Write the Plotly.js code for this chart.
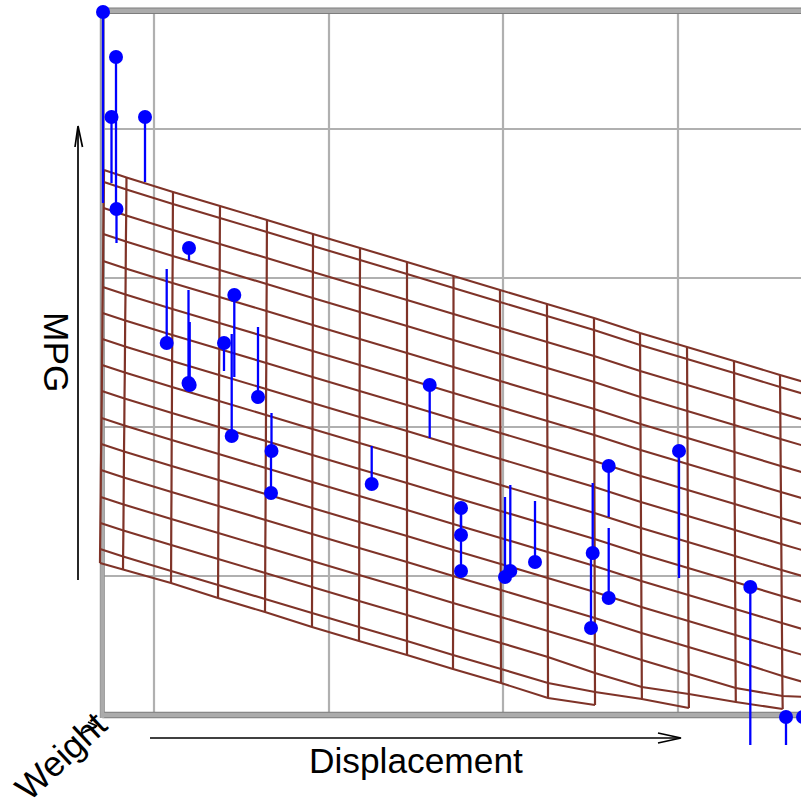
<!DOCTYPE html>
<html>
<head>
<meta charset="utf-8">
<script src="https://cdn.plot.ly/plotly-3.0.1.min.js"></script>
<style>html,body{margin:0;padding:0;background:#fff}</style>
</head>
<body>
<div id="chart" style="width:801px;height:799px"></div>
<script>
// Observations: position along the Displacement direction, height on the MPG direction
const pointX = [103,116,111.5,145,116.5,189,166.7,188.5,189.7,224,234.3,231.7,258,271.5,271,371.7,429.7,461,461,461,505,510.3,535,592.7,591,608.7,608.7,679,750.3,786,803];
const pointY = [12,57,117,117,209,248,343,383,385,343,295,436,397,451,493,484,385,508,535,571,577,571,562,553,628,598,466,451,587,717,717];
// Where each residual stem meets the fitted surface
const stemEndY = [203,205,183,182,243,260,269,290,322,371,377,334,327,413,455,446,438,510,510,510,497,485,501,483,555,528,517,578,745,745,745];

// Fitted surface, one list per row of the wireframe
const meshX = [
[104,126.5,173,220,267,313,360,407,453.5,500,547,594,640,687,734,780,804],
[103.9,126.4,172.9,219.9,266.9,313,360,407,453.5,500,547,594,640.1,687.1,734.1,780.1,804.1],
[103.6,126.2,172.8,219.8,266.8,312.9,359.9,407,453.5,500.1,547.1,594.1,640.2,687.2,734.2,780.3,804.3],
[103.3,125.9,172.7,219.7,266.7,312.8,359.8,407,453.4,500.2,547.2,594.2,640.3,687.3,734.3,780.5,804.5],
[103.1,125.7,172.5,219.5,266.5,312.8,359.8,407,453.4,500.2,547.2,594.2,640.5,687.5,734.5,780.7,804.7],
[102.8,125.5,172.4,219.4,266.4,312.7,359.7,407,453.4,500.3,547.3,594.3,640.6,687.6,734.6,780.9,804.9],
[102.5,125.2,172.3,219.3,266.3,312.6,359.6,407,453.3,500.4,547.4,594.4,640.7,687.7,734.7,781.1,805.1],
[102.3,125,172.1,219.1,266.1,312.6,359.6,407,453.3,500.4,547.4,594.4,640.9,687.9,734.9,781.3,805.3],
[102,124.8,172,219,266,312.5,359.5,407,453.3,500.5,547.5,594.5,641,688,735,781.5,805.5],
[101.8,124.5,171.9,218.9,265.9,312.4,359.4,407,453.2,500.6,547.6,594.6,641.1,688.1,735.1,781.7,805.7],
[101.5,124.3,171.7,218.7,265.7,312.4,359.4,407,453.2,500.6,547.6,594.6,641.3,688.3,735.3,781.9,805.9],
[101.2,124,171.6,218.6,265.6,312.3,359.3,407,453.2,500.7,547.7,594.7,641.4,688.4,735.4,782.1,806.1],
[100.9,123.8,171.5,218.5,265.5,312.2,359.2,407,453.1,500.8,547.8,594.8,641.5,688.5,735.5,782.3,806.3],
[100.7,123.6,171.3,218.3,265.3,312.2,359.2,407,453.1,500.8,547.8,594.8,641.7,688.7,735.7,782.5,806.5],
[100.4,123.4,171.2,218.2,265.2,312.1,359.1,407,453.1,500.9,547.9,594.9,641.8,688.8,735.8,782.7],
[100.1,123.1,171.1,218.1,265.1,312,359,407,453,501,548,595,641.9,688.9],
[100,123,171,218,265,312,359,407,453,501,548,595]
];
const meshY = [
[170,177.5,192,206,220,234,248,262,276,290,304,318,333,347,361,375,382],
[182,189.5,204,218,232,246,260,274,288,302,316,330,345,359,373,387,394],
[208,215.5,230,244,258,272,286,300,314,328,342,356,371,385,399,413,420],
[234,241.5,256,270,284,298,312,326,340,354,368,382,397,411,425,439,446],
[261,268.5,283,297,311,325,339,353,367,381,395,409,424,438,452,466,473],
[287,294.5,309,323,337,351,365,379,393,407,421,435,450,464,478,492,499],
[313,320.5,335,349,363,377,391,405,419,433,447,461,476,490,504,518,525],
[339,346.5,361,375,389,403,417,431,445,459,473,487,502,516,530,544,551],
[365,372.5,387,401,415,429,443,457,471,485,499,513,528,542,556,570,577],
[391,398.5,413,427,441,455,469,483,497,511,525,539,554,568,582,596,603],
[418,425.5,440,454,468,482,496,510,524,538,552,566,581,595,609,623,630],
[444,451.5,466,480,494,508,522,536,550,564,578,592,607,621,635,649,656],
[470,477.5,492,506,520,534,548,562,576,590,604,618,633,647,661,676,683],
[497,504.5,519,533,547,561,575,589,603,617,631,645,660,674,688,696,697],
[523,530.5,545,559,573,587,601,615,629,643,657,673,687,694,702,709],
[549,556.5,571,585,599,613,627,641,655,669,683,692,699,708],
[563,569.5,583,598,612,627,641,655,669,683,698,705]
];

// Reference grid and box
const gridX = [154,329,503,678];
const gridY = [129,278,427,576];
const boxLeft = 102.3, boxRight = 801, boxTop = 10.8, boxBottom = 715;

// Axis labels and their arrows
const labelText = ["MPG","Displacement","Weight"];
const labelX = [57,415.5,60];
const labelY = [352,760,756];
const labelAngle = [90,0,-43];
const arrowMpgX = [78,78,null,75,78,82.5];
const arrowMpgY = [580,127,null,147,126,147];
const arrowDispX = [150,680,null,658,681,658];
const arrowDispY = [738,738,null,733,738,743];
const arrowWeightX = [80,96,null,88,97,85];
const arrowWeightY = [734,727,null,722,726,731];

const gridLX = [], gridLY = [];
gridX.forEach(v => { gridLX.push(v, v, null); gridLY.push(boxTop, boxBottom + 3, null); });
gridY.forEach(v => { gridLX.push(boxLeft, boxRight, null); gridLY.push(v, v, null); });

const rowX = [], rowY = [];
meshX.forEach((r, i) => { r.forEach((v, j) => { rowX.push(v); rowY.push(meshY[i][j]); }); rowX.push(null); rowY.push(null); });
const colX = [], colY = [];
for (let j = 0; j < meshX[0].length; j++) {
  for (let i = 0; i < meshX.length; i++) {
    if (meshX[i][j] !== undefined) { colX.push(meshX[i][j]); colY.push(meshY[i][j]); }
  }
  colX.push(null); colY.push(null);
}
const stemX = [], stemY = [];
pointX.forEach((v, i) => { stemX.push(v, v, null); stemY.push(pointY[i], stemEndY[i], null); });

const hBandX = [boxLeft, boxRight, null, boxLeft, boxRight];
const hBandY = [boxTop, boxTop, null, boxBottom, boxBottom];
const vBandX = [boxLeft, boxLeft];
const vBandY = [boxTop - 3, boxBottom + 3];
const lineTrace = (x, y, color, width) => ({x, y, mode: "lines", type: "scatter", hoverinfo: "skip",
  line: {color, width, simplify: false}, connectgaps: false});

const traces = [
  lineTrace(gridLX, gridLY, "#b0b0b0", 2.2),
  lineTrace(vBandX, vBandY, "#8a8a8a", 5),
  lineTrace(hBandX, hBandY, "#7d7d7d", 6.5),
  lineTrace(vBandX, vBandY, "#ababab", 3.8),
  lineTrace(hBandX, hBandY, "#ababab", 4.6),
  lineTrace(rowX, rowY, "#7f3328", 2.1),
  lineTrace(colX, colY, "#7f3328", 2.2),
  lineTrace(stemX, stemY, "#0000ff", 2.3),
  {x: pointX, y: pointY, mode: "markers", type: "scatter", hoverinfo: "skip",
   marker: {color: "#0000ff", size: 14, line: {width: 0}}},
  lineTrace(arrowMpgX, arrowMpgY, "#000000", 1.7),
  lineTrace(arrowDispX, arrowDispY, "#000000", 1.7),
  lineTrace(arrowWeightX, arrowWeightY, "#000000", 1.7)
];

const annotations = labelText.map((t, i) => ({
  text: t, x: labelX[i], y: labelY[i], xref: "x", yref: "y", showarrow: false,
  textangle: labelAngle[i], xanchor: "center", yanchor: "middle",
  font: {family: "Liberation Sans, Arial, sans-serif", size: 35.3, color: "#000000"}
}));

Plotly.newPlot("chart", traces, {
  width: 801, height: 799, showlegend: false,
  margin: {l: 0, r: 0, t: 0, b: 0, pad: 0},
  paper_bgcolor: "#ffffff", plot_bgcolor: "#ffffff",
  xaxis: {range: [0, 801], visible: false, fixedrange: true},
  yaxis: {range: [799, 0], visible: false, fixedrange: true},
  annotations
}, {displayModeBar: false, staticPlot: true});
</script>
</body>
</html>
